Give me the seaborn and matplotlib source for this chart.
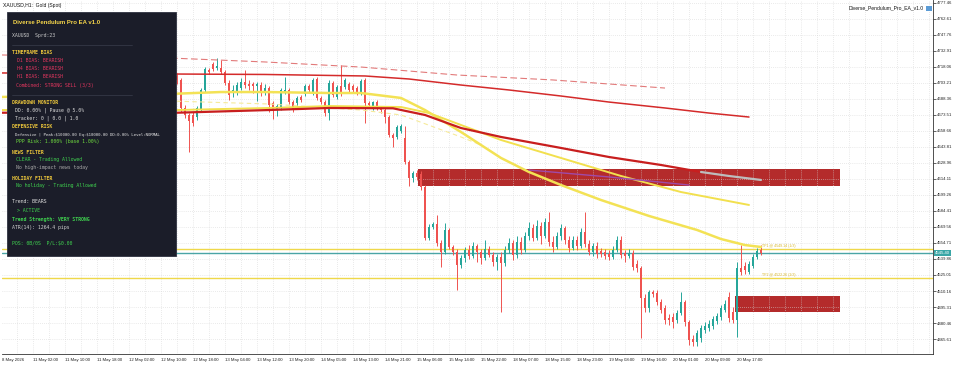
import numpy as np
import pandas as pd
import matplotlib
matplotlib.use("Agg")
import matplotlib.pyplot as plt
import seaborn as sns
from matplotlib.patches import Rectangle

# ---- data (XAUUSD H1) ----
first_bar = 40  # bars before this one sit behind the info panel

opens = [4692.0, 4701.3, 4709.7, 4706.0, 4680.0, 4673.5, 4673.5, 4671.6, 4678.1, 4696.7,
         4715.2, 4720.8, 4717.1, 4717.1, 4713.4, 4703.2, 4693.9, 4694.8, 4698.5, 4704.1,
         4702.2, 4702.2, 4700.4, 4701.3, 4693.9, 4698.5, 4684.6, 4678.1, 4680.9, 4694.8,
         4696.7, 4685.5, 4684.6, 4690.2, 4693.0, 4700.4, 4694.8, 4706.9, 4689.3, 4685.5,
         4675.3, 4703.2, 4690.2, 4700.4, 4699.5, 4702.2, 4700.4, 4698.5, 4693.9, 4706.0,
         4684.6, 4680.0, 4685.5, 4680.0, 4678.1, 4671.6, 4654.9, 4653.1, 4658.6, 4652.1,
         4629.9, 4615.0, 4619.7, 4618.7, 4606.7, 4559.3, 4569.5, 4572.3, 4554.7, 4546.3,
         4566.8, 4551.0, 4546.3, 4534.3, 4540.8, 4548.2, 4542.6, 4551.9, 4546.3, 4540.8,
         4549.1, 4543.6, 4537.1, 4541.7, 4536.1, 4548.2, 4554.7, 4543.6, 4555.6, 4548.2,
         4561.2, 4568.6, 4559.3, 4570.5, 4561.2, 4574.2, 4555.6, 4551.0, 4561.2, 4568.6,
         4557.5, 4550.1, 4557.5, 4551.9, 4564.9, 4553.8, 4546.3, 4551.9, 4547.3, 4546.3,
         4544.5, 4541.7, 4548.2, 4557.5, 4545.4, 4542.6, 4545.4, 4535.2, 4531.5, 4503.7,
         4494.4, 4509.2, 4508.3, 4500.0, 4494.4, 4485.1, 4486.0, 4483.2, 4489.7, 4500.0,
         4481.4, 4465.6, 4462.8, 4466.5, 4474.0, 4475.8, 4477.7, 4482.3, 4486.0, 4492.5,
         4504.6, 4490.7, 4483.2, 4531.5, 4533.4, 4527.8, 4533.4, 4541.7, 4548.2]
highs = [4706.0, 4703.2, 4712.5, 4707.8, 4682.8, 4675.3, 4676.3, 4681.8, 4698.5, 4718.0,
         4717.1, 4722.7, 4726.4, 4724.5, 4715.2, 4706.0, 4701.3, 4704.1, 4707.8, 4715.2,
         4706.0, 4704.1, 4704.1, 4704.1, 4702.2, 4700.4, 4686.5, 4683.7, 4698.5, 4708.7,
         4698.5, 4687.4, 4691.1, 4692.0, 4702.2, 4702.2, 4707.8, 4708.7, 4691.1, 4687.4,
         4706.0, 4705.0, 4701.3, 4719.9, 4707.8, 4704.1, 4702.2, 4700.4, 4706.9, 4707.8,
         4686.5, 4686.5, 4687.4, 4681.8, 4680.0, 4673.5, 4656.8, 4664.2, 4665.1, 4663.3,
         4631.7, 4621.5, 4622.4, 4621.5, 4608.5, 4572.3, 4574.2, 4580.7, 4557.5, 4573.3,
         4568.6, 4552.8, 4549.1, 4543.6, 4551.0, 4552.8, 4555.6, 4553.8, 4549.1, 4557.5,
         4551.9, 4546.3, 4544.5, 4546.3, 4551.9, 4559.3, 4557.5, 4561.2, 4560.3, 4564.9,
         4574.2, 4572.3, 4576.0, 4574.2, 4577.9, 4583.5, 4561.2, 4564.9, 4572.3, 4570.5,
         4561.2, 4561.2, 4561.2, 4568.6, 4583.5, 4557.5, 4554.7, 4555.6, 4550.1, 4549.1,
         4548.2, 4551.9, 4561.2, 4561.2, 4548.2, 4549.1, 4548.2, 4538.9, 4533.4, 4507.4,
         4511.1, 4511.1, 4511.1, 4502.7, 4497.2, 4488.8, 4489.7, 4492.5, 4509.2, 4501.8,
         4483.2, 4469.3, 4474.0, 4478.6, 4481.4, 4483.2, 4487.0, 4489.7, 4497.2, 4501.8,
         4509.2, 4495.3, 4537.1, 4552.8, 4537.1, 4538.0, 4544.5, 4550.1, 4552.8]
lows = [4687.4, 4690.2, 4702.2, 4676.3, 4670.7, 4639.1, 4663.3, 4668.8, 4676.3, 4694.8,
        4711.5, 4714.3, 4715.2, 4711.5, 4701.3, 4687.4, 4690.2, 4692.0, 4696.7, 4698.5,
        4696.7, 4693.9, 4686.5, 4691.1, 4692.0, 4676.3, 4669.8, 4672.6, 4678.1, 4693.0,
        4683.7, 4676.3, 4681.8, 4685.5, 4691.1, 4694.8, 4692.0, 4687.4, 4683.7, 4672.6,
        4668.8, 4690.2, 4688.3, 4691.1, 4697.6, 4694.8, 4693.9, 4692.0, 4692.0, 4666.1,
        4680.0, 4678.1, 4678.1, 4675.3, 4666.1, 4653.1, 4643.8, 4651.2, 4656.8, 4628.0,
        4607.6, 4611.3, 4613.2, 4603.9, 4557.5, 4557.5, 4567.7, 4551.9, 4532.4, 4544.5,
        4549.1, 4543.6, 4511.1, 4531.5, 4537.1, 4539.8, 4540.8, 4537.1, 4535.2, 4538.9,
        4541.7, 4533.4, 4529.6, 4490.7, 4533.4, 4545.4, 4538.9, 4540.8, 4544.5, 4546.3,
        4557.5, 4556.6, 4557.5, 4553.8, 4559.3, 4551.9, 4546.3, 4549.1, 4557.5, 4553.8,
        4546.3, 4548.2, 4548.2, 4550.1, 4551.0, 4543.6, 4542.6, 4540.8, 4541.7, 4539.8,
        4538.9, 4539.8, 4546.3, 4540.8, 4537.1, 4540.8, 4529.6, 4527.8, 4466.5, 4490.7,
        4490.7, 4504.6, 4497.2, 4489.7, 4479.5, 4478.6, 4475.8, 4480.5, 4487.9, 4477.7,
        4460.0, 4459.1, 4459.1, 4462.8, 4471.2, 4473.0, 4474.9, 4479.5, 4483.2, 4490.7,
        4481.4, 4480.5, 4467.5, 4525.0, 4525.9, 4525.9, 4531.5, 4539.8, 4543.6]
closes = [4701.3, 4692.0, 4706.0, 4680.0, 4673.5, 4667.9, 4666.1, 4680.0, 4696.7, 4716.2,
          4713.4, 4716.2, 4719.0, 4713.4, 4703.2, 4692.0, 4696.7, 4701.3, 4704.1, 4701.3,
          4700.4, 4700.4, 4702.2, 4693.9, 4698.5, 4682.8, 4678.1, 4681.8, 4696.7, 4696.7,
          4685.5, 4678.1, 4689.3, 4687.4, 4700.4, 4696.7, 4706.0, 4689.3, 4685.5, 4675.3,
          4703.2, 4692.0, 4699.5, 4693.0, 4706.0, 4696.7, 4696.7, 4693.9, 4705.0, 4684.6,
          4682.8, 4685.5, 4680.0, 4678.1, 4671.6, 4654.9, 4652.1, 4662.3, 4663.3, 4629.9,
          4615.0, 4619.7, 4616.0, 4606.7, 4559.3, 4569.5, 4572.3, 4554.7, 4546.3, 4566.8,
          4551.0, 4546.3, 4534.3, 4540.8, 4548.2, 4542.6, 4551.9, 4546.3, 4540.8, 4549.1,
          4543.6, 4537.1, 4541.7, 4536.1, 4548.2, 4554.7, 4543.6, 4555.6, 4548.2, 4561.2,
          4568.6, 4559.3, 4570.5, 4561.2, 4574.2, 4555.6, 4551.0, 4561.2, 4568.6, 4557.5,
          4550.1, 4557.5, 4551.9, 4564.9, 4553.8, 4546.3, 4551.9, 4544.5, 4544.5, 4542.6,
          4541.7, 4548.2, 4557.5, 4543.6, 4542.6, 4545.4, 4532.4, 4531.5, 4503.7, 4494.4,
          4509.2, 4507.4, 4500.0, 4492.5, 4483.2, 4483.2, 4481.4, 4489.7, 4500.0, 4481.4,
          4464.7, 4462.8, 4471.2, 4475.8, 4477.7, 4479.5, 4484.2, 4487.0, 4494.4, 4498.1,
          4485.1, 4483.2, 4531.5, 4527.8, 4529.6, 4535.2, 4541.7, 4547.3, 4545.4]

# moving averages (bar index, price)
red_dash_bars = [-2, 40, 64, 88, 112, 136, 164]
red_dash_vals = [4729.2, 4726.4, 4722.7, 4718.0, 4710.6, 4706.0, 4698.5]
red_upper_bars = [-2, 42, 64, 89, 100, 113, 125, 138, 150, 164, 175, 185]
red_upper_vals = [4712.5, 4711.5, 4711.1, 4709.7, 4706.9, 4701.3, 4696.7, 4691.1,
                  4685.5, 4680.0, 4675.3, 4671.6]
red_lower_bars = [-2, 42, 65, 80, 96, 104, 113, 123, 138, 150, 163, 173]
red_lower_vals = [4675.6, 4675.6, 4678.1, 4680.0, 4679.7, 4673.5, 4661.4, 4653.1,
                  4642.9, 4634.5, 4627.1, 4620.6]
gray_tail_bars = [173, 180, 188]
gray_tail_vals = [4620.6, 4616.9, 4613.2]
purple_bars = [130, 150, 170]
purple_vals = [4622.4, 4616.0, 4608.5]
yellow_fast_bars = [-2, 40, 53, 64, 80, 88, 98, 104, 113, 123, 130, 138, 148, 160,
                    172, 178, 184, 188]
yellow_fast_vals = [4690.2, 4693.0, 4694.8, 4694.8, 4693.9, 4693.9, 4689.3, 4678.1,
                    4657.7, 4633.6, 4620.6, 4608.5, 4594.6, 4579.8, 4566.8, 4558.4,
                    4552.8, 4551.0]
yellow_slow_bars = [-2, 42, 65, 80, 98, 105, 113, 123, 138, 153, 168, 185]
yellow_slow_vals = [4678.1, 4678.1, 4680.0, 4681.8, 4680.9, 4675.3, 4664.2, 4650.3,
                    4633.6, 4616.9, 4602.0, 4590.0]
yellow_pale_bars = [40, 65, 88, 98, 113, 118]
yellow_pale_vals = [4686.5, 4683.7, 4678.1, 4673.5, 4653.1, 4645.6]

# levels and zones
tp1_price = 4549.14
tp2_price = 4522.26
bid_price = 4545.40
zone_tops = [4623.4, 4505.5]
zone_bottoms = [4607.6, 4490.7]
zone_starts = [102.25, 181.5]
zone_end = 207.75

price_ticks = [4777.46, 4762.61, 4747.76, 4732.91, 4718.06, 4703.21, 4688.36, 4673.51,
               4658.66, 4643.81, 4628.96, 4614.11, 4599.26, 4584.41, 4569.56, 4554.71,
               4539.86, 4525.01, 4510.16, 4495.31, 4480.46, 4465.61]
time_labels = ['11 May 02:00', '11 May 10:00', '11 May 18:00', '12 May 02:00',
               '12 May 10:00', '12 May 18:00', '13 May 04:00', '13 May 12:00',
               '13 May 20:00', '14 May 05:00', '14 May 13:00', '14 May 21:00',
               '15 May 06:00', '15 May 14:00', '15 May 22:00', '18 May 07:00',
               '18 May 15:00', '18 May 23:00', '19 May 08:00', '19 May 16:00',
               '20 May 01:00', '20 May 09:00', '20 May 17:00']

panel_lines = [
    ("Diverse Pendulum Pro EA v1.0", '#f4d44a'),
    ("XAUUSD  Sprd:23", '#c9c9c9'),
    ("TIMEFRAME BIAS", '#e8c33b'),
    ("D1 BIAS: BEARISH", '#e0365e'),
    ("H4 BIAS: BEARISH", '#e0365e'),
    ("H1 BIAS: BEARISH", '#e0365e'),
    ("Combined: STRONG SELL (3/3)", '#e0365e'),
    ("DRAWDOWN MONITOR", '#e8c33b'),
    ("DD: 0.00% | Pause @ 5.0%", '#d9d9d9'),
    ("Tracker: 0 | 0.0 | 1.0", '#d9d9d9'),
    ("DEFENSIVE RISK", '#e8c33b'),
    ("Defensive | Peak:$10000.00 Eq:$10000.00 DD:0.00% Level:NORMAL", '#e6e6e6'),
    ("PPP Risk: 1.000% (base 1.00%)", '#6fdc3f'),
    ("NEWS FILTER", '#e8c33b'),
    ("CLEAR - Trading Allowed", '#3fd04f'),
    ("No high-impact news today", '#a8a8a8'),
    ("HOLIDAY FILTER", '#e8c33b'),
    ("No holiday - Trading Allowed", '#3fd04f'),
    ("Trend: BEARS", '#e0e0e0'),
    ("> ACTIVE", '#3fd04f'),
    ("Trend Strength: VERY STRONG", '#3fd04f'),
    ("ATR(14): 1264.4 pips", '#d0d0d0'),
    ("POS: 0B/0S  P/L:$0.00", '#3fd04f'),
]
# pixel rows / indents / bold for each panel line
panel_y = [22, 36, 53, 61, 69, 77, 85, 102, 110, 118, 127, 135, 142, 153, 160, 168,
           178, 185, 202, 210, 219, 227, 244]
panel_x = [13, 12, 12, 17, 17, 17, 16, 12, 15, 15, 12, 15, 16, 12, 16, 16, 12, 16,
           12, 17, 12, 12, 12]
panel_bold = {0, 2, 7, 10, 13, 16, 20}

# ---- style ----
sns.set_style("white")
plt.rcParams['font.family'] = ['Liberation Sans', 'DejaVu Sans']

W, H = 960, 365
fig = plt.figure(figsize=(W / 100, H / 100), dpi=100)
ax = fig.add_axes([2 / W, 11 / H, 931 / W, 354 / H])
ax.set_xlim(-1.75, 231)
ax.set_ylim(4451.7, 4780.2)

# zones
for s, b, t in zip(zone_starts, zone_bottoms, zone_tops):
    ax.add_patch(Rectangle((s, b), zone_end - s, t - b, facecolor='#b42b2b',
                           edgecolor='none', zorder=1))

# grid
for gx in range(2, 232, 4):
    ax.axvline(gx, color='#d6d6d6', lw=0.5, ls=(0, (1, 2)), zorder=1.5)
for gp in price_ticks:
    ax.axhline(gp, color='#d6d6d6', lw=0.5, ls=(0, (1, 2)), zorder=1.5)

# levels
ax.axhline(tp1_price, color='#efd84a', lw=1.0, zorder=2)
ax.axhline(tp2_price, color='#efd84a', lw=1.0, zorder=2)
ax.axhline(bid_price, color='#4aa5a5', lw=1.0, zorder=2)

# candles
df = pd.DataFrame({'open': opens, 'high': highs, 'low': lows, 'close': closes})
df['bar'] = np.arange(first_bar, first_bar + len(df))
up = df['close'] >= df['open']
cols = np.where(up, '#26a69a', '#ef5350')
ax.vlines(df['bar'], df['low'], df['high'], colors=cols, lw=0.7, zorder=3)
body_lo = np.minimum(df['open'], df['close'])
body_h = np.maximum((df['close'] - df['open']).abs(), 1.0)
ax.bar(df['bar'], body_h, bottom=body_lo, width=0.68, color=cols, linewidth=0, zorder=3)

# moving averages
def ma(bars, vals, **kw):
    sns.lineplot(x=bars, y=vals, ax=ax, estimator=None, sort=False, legend=False, **kw)

ma(red_dash_bars, red_dash_vals, color='#e27a7a', lw=0.8, linestyle=(0, (6, 3)), zorder=4)
ma(red_upper_bars, red_upper_vals, color='#d42a2a', lw=1.1, zorder=4)
ma(yellow_pale_bars, yellow_pale_vals, color='#f6ea9a', lw=0.8, linestyle=(0, (4, 3)), zorder=4)
ma(yellow_slow_bars, yellow_slow_vals, color='#f2e04e', lw=1.4, zorder=4)
ma(yellow_fast_bars, yellow_fast_vals, color='#f3e255', lw=1.8, zorder=4)
ma(red_lower_bars, red_lower_vals, color='#c81e1e', lw=1.6, zorder=4.5)
ma(gray_tail_bars, gray_tail_vals, color='#bdbdbd', lw=1.6, zorder=4.5)
ma(purple_bars, purple_vals, color='#a04aa8', lw=1.0, zorder=4.5)

# TP labels
ax.text(188.3, tp1_price + 1.0, f"TP1 @ {tp1_price:.2f} (1/3)", fontsize=2.6,
        color='#d9b72a', va='bottom', ha='left', zorder=5)
ax.text(188.3, tp2_price + 1.0, f"TP2 @ {tp2_price:.2f} (2/3)", fontsize=2.6,
        color='#d9b72a', va='bottom', ha='left', zorder=5)

# axes cosmetics
ax.yaxis.tick_right()
ax.set_yticks(price_ticks)
ax.set_yticklabels([f"{p:.2f}" for p in price_ticks])
ax.tick_params(axis='y', labelsize=3.1, length=2, width=0.5, pad=1, colors='#222222')
xt = [-1.75] + [6 + 8 * k for k in range(len(time_labels))]
ax.set_xticks(xt)
ax.set_xticklabels(['8 May 2026'] + time_labels)
for lab in ax.get_xticklabels():
    lab.set_horizontalalignment('left')
ax.tick_params(axis='x', labelsize=3.1, length=2, width=0.5, pad=1, colors='#222222')
for side in ['top', 'left']:
    ax.spines[side].set_visible(False)
for side in ['right', 'bottom']:
    ax.spines[side].set_color('#333333')
    ax.spines[side].set_linewidth(0.6)
ax.set_xlabel('')
ax.set_ylabel('')

# current price box on the price scale
ax.text(1.0025, bid_price, f"{bid_price:.2f}", transform=ax.get_yaxis_transform(),
        fontsize=3.1, color='white', va='center', ha='left', zorder=6, clip_on=False,
        bbox=dict(boxstyle='square,pad=0.25', facecolor='#3aa6a6', edgecolor='none'))

# header texts
fig.text(3 / W, 1 - 5 / H, "XAUUSD,H1:  Gold (Spot)", fontsize=3.6, va='center',
         color='#111111')
fig.text(924 / W, 1 - 8 / H, "Diverse_Pendulum_Pro_EA_v1.0", fontsize=3.6, va='center',
         ha='right', color='#111111')
fig.add_artist(Rectangle((926 / W, 1 - 11 / H), 6 / W, 5 / H, transform=fig.transFigure,
                         facecolor='#5b9bd5', edgecolor='none'))

# info panel
fig.add_artist(Rectangle((7 / W, 1 - 256 / H), 169 / W, 244 / H, transform=fig.transFigure,
                         facecolor='#1b1d29', edgecolor='#2e3140', lw=0.6, zorder=10))
for sy in [45, 95]:
    fig.add_artist(plt.Line2D([12 / W, 132 / W], [1 - sy / H, 1 - sy / H],
                              transform=fig.transFigure, color='#3a3d4c', lw=0.5, zorder=11))
for i, (txt, c) in enumerate(panel_lines):
    if i == 0:
        fam, size = ['Liberation Sans', 'DejaVu Sans'], 4.3
    else:
        fam, size = ['DejaVu Sans Mono'], (2.9 if i == 11 else 3.55)
    fig.text(panel_x[i] / W, 1 - panel_y[i] / H, txt, color=c, fontsize=size,
             family=fam, fontweight='bold' if i in panel_bold else 'normal',
             va='center', ha='left', zorder=12, parse_math=False)

fig.savefig('out.png', dpi=100, facecolor='white')
